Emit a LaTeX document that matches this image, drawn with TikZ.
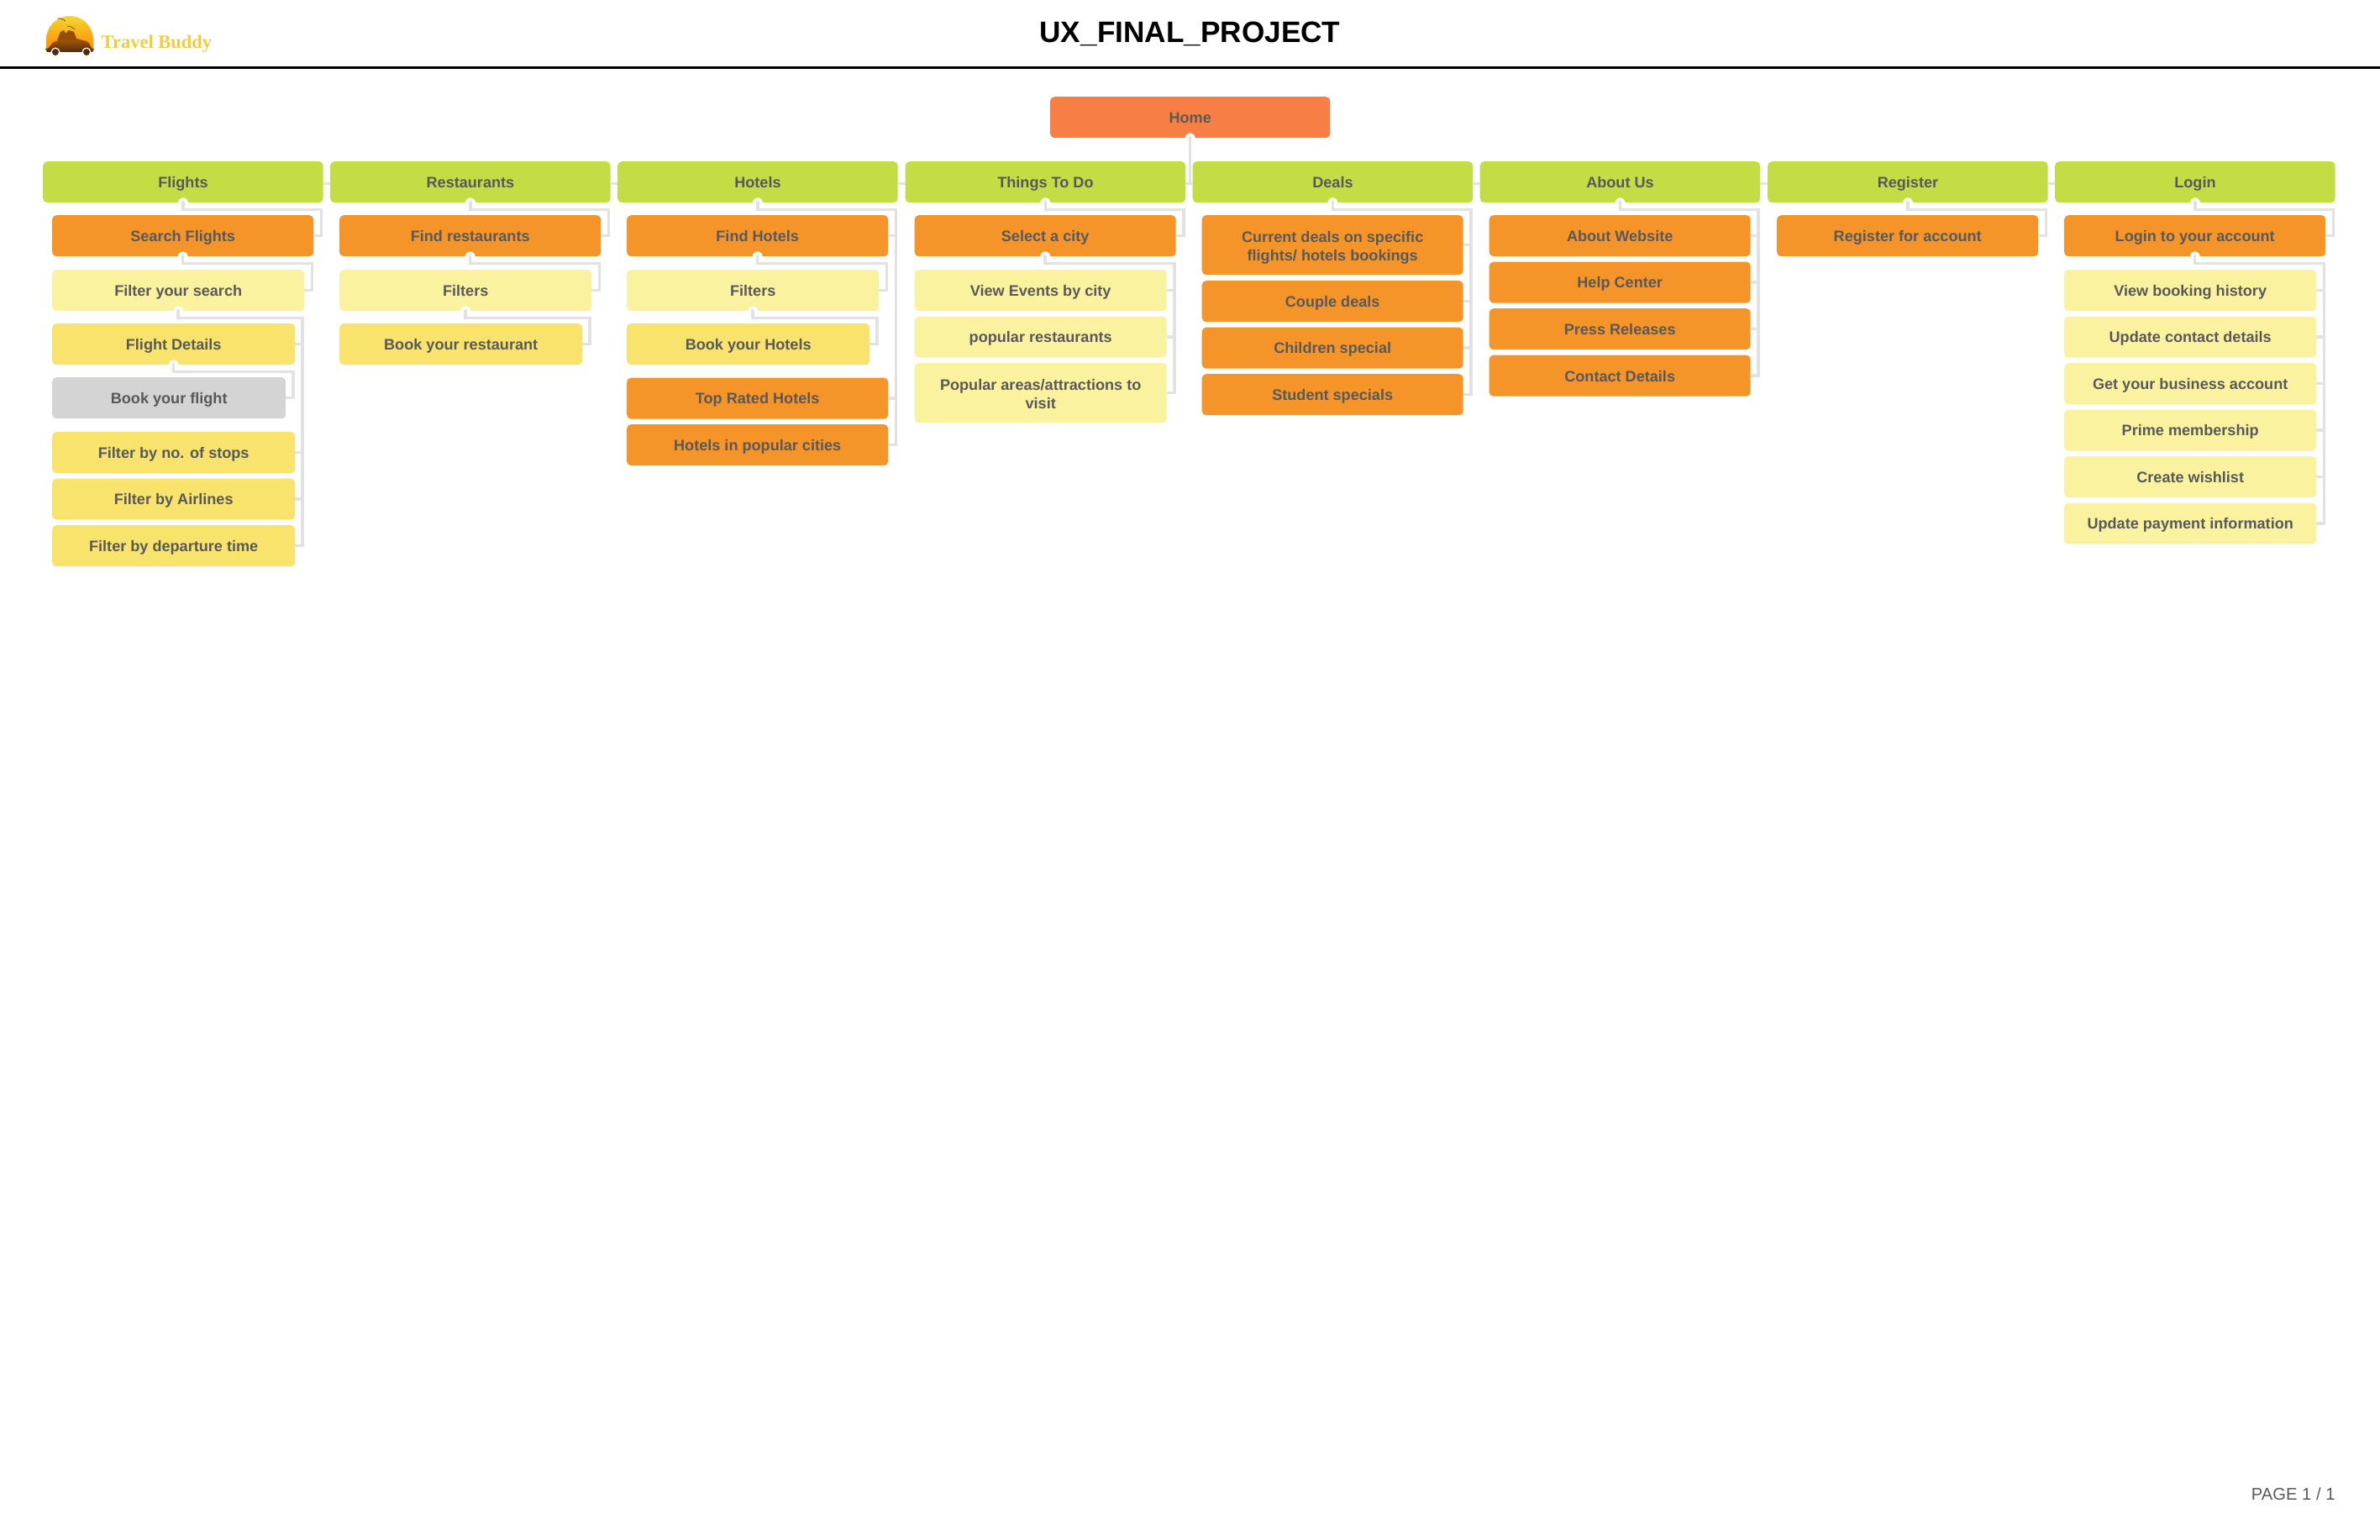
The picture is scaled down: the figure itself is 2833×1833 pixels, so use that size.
\documentclass[tikz,border=0pt]{standalone}
\usepackage{fontspec}
\setmainfont{Liberation Sans}
\newfontfamily\logofont{Liberation Serif}
\definecolor{inkgrey}{HTML}{58595B}
\definecolor{linkgrey}{HTML}{E2E2E2}
\definecolor{homeorange}{HTML}{F77F44}
\definecolor{tiergreen}{HTML}{C4DD45}
\definecolor{tierorange}{HTML}{F59428}
\definecolor{tierpale}{HTML}{FAF29E}
\definecolor{tieryellow}{HTML}{F8E36C}
\definecolor{tiergrey}{HTML}{D4D4D4}
\definecolor{logogold}{HTML}{F2CC3B}
\definecolor{logobrown}{HTML}{4E2C0E}
\tikzset{
  sitebox/.style={anchor=north west,rounded corners=5pt,inner sep=0pt,minimum height=49pt,
    align=center,text=inkgrey,font=\fontsize{18.1pt}{22pt}\selectfont\bfseries,
    execute at begin node={\rule{0pt}{17pt}},execute at end node={\rule[-3pt]{0pt}{3pt}}},
  twoline/.style={minimum height=71pt},
  homebox/.style={sitebox,fill=homeorange,minimum width=333pt},
  greenbox/.style={sitebox,fill=tiergreen,minimum width=333.5pt},
  orangebox/.style={sitebox,fill=tierorange},
  palebox/.style={sitebox,fill=tierpale},
  yellowbox/.style={sitebox,fill=tieryellow},
  greybox/.style={sitebox,fill=tiergrey},
  link/.style={draw=linkgrey,line width=3.5pt},
}
% first line of a two-line box sits a little lower
\newcommand\lowered{\rule{0pt}{19.5pt}}
% elbow from a parent to each of its children
\newcommand\elbow[3]{%
  \fill[white](#1.south) circle (6pt);
  \fill[linkgrey]([yshift=1pt]#1.south) circle (1.75pt);
  \foreach \kid in {#2}{\draw[link]([yshift=1pt]#1.south)--++(0,9)-|([xshift=#3]\kid.east)--(\kid.east);}
}
\begin{document}
\begin{tikzpicture}[x=1pt,y=-1pt]
\useasboundingbox(0,0)rectangle(2833,1833);
% header
\draw[line width=3pt](0,80.5)--(2833,80.5);
\node[font=\fontsize{35.2pt}{40pt}\selectfont\bfseries](title)at(1416.5,40){UX\_FINAL\_PROJECT};
\node[anchor=east,text=inkgrey,font=\fontsize{20.2pt}{24pt}\selectfont](pageno)at(2783,1778){PAGE 1 / 1};
% logo
\shade[top color=logogold!80!yellow,bottom color=orange!90!yellow](55,47) arc (180:360:28)--(111,58)--(55,58)--cycle;
\shade[top color=logobrown!45!orange,bottom color=logobrown](54,58) to [out=-15,in=190](66,49) to [out=10,in=180](84,45) to [out=0,in=170](103,49) to [out=-10,in=-150](112,58)--(110,62)--(56,62)--cycle;
\fill[logobrown!60!orange](68,48)--(72,38)--(76,36)--(78,40)--(82,36)--(88,38)--(92,48)--cycle;
\fill[white](66,62) circle (5.5);
\fill[white](103,62) circle (5.5);
\fill[logobrown](66,62) circle (4);
\fill[logobrown](103,62) circle (4);
\draw[logobrown!70!orange,line width=.8pt](68,22) to [bend left=20](78,25);
\draw[logobrown!70!orange,line width=.8pt](80,31) to [bend left=20](89,35);
\node[anchor=base west,inner sep=0pt,text=logogold,font=\logofont\fontsize{22.5pt}{26pt}\selectfont\bfseries](brand)at(120.5,57.5){Travel Buddy};
% home and first level
\node[homebox](home)at(1250,115){Home};
\node[greenbox](flights)at(51,192){Flights};
\node[greenbox](restaurants)at(393,192){Restaurants};
\node[greenbox](hotels)at(735,192){Hotels};
\node[greenbox](things)at(1077.5,192){Things To Do};
\node[greenbox](deals)at(1419.5,192){Deals};
\node[greenbox](about)at(1761.5,192){About Us};
\node[greenbox](register)at(2104,192){Register};
\node[greenbox](login)at(2446,192){Login};
% flights
\node[orangebox,minimum width=311pt](searchflights)at(62,256){Search Flights};
\node[palebox,minimum width=300pt](filtersearch)at(62,321){Filter your search};
\node[yellowbox,minimum width=289pt](flightdetails)at(62,385){Flight Details};
\node[greybox,minimum width=278pt](bookflight)at(62,449){Book your flight};
\node[yellowbox,minimum width=289pt](stops)at(62,514){Filter by no. of stops};
\node[yellowbox,minimum width=289pt](airlines)at(62,569.5){Filter by Airlines};
\node[yellowbox,minimum width=289pt](departure)at(62,625){Filter by departure time};
% restaurants
\node[orangebox,minimum width=311pt](findrest)at(404,256){Find restaurants};
\node[palebox,minimum width=300pt](restfilters)at(404,321){Filters};
\node[yellowbox,minimum width=289pt](bookrest)at(404,385){Book your restaurant};
% hotels
\node[orangebox,minimum width=311pt](findhotels)at(746,256){Find Hotels};
\node[palebox,minimum width=300pt](hotelfilters)at(746,321){Filters};
\node[yellowbox,minimum width=289pt](bookhotels)at(746,385){Book your Hotels};
\node[orangebox,minimum width=311pt](toprated)at(746,449.5){Top Rated Hotels};
\node[orangebox,minimum width=311pt](popcities)at(746,505){Hotels in popular cities};
% things to do
\node[orangebox,minimum width=311pt](selectcity)at(1088.5,256){Select a city};
\node[palebox,minimum width=300pt](events)at(1088.5,321){View Events by city};
\node[palebox,minimum width=300pt](poprest)at(1088.5,376.5){popular restaurants};
\node[palebox,twoline,minimum width=300pt](areas)at(1088.5,432){\lowered Popular areas/attractions to\\visit};
% deals
\node[orangebox,twoline,minimum width=311pt](current)at(1430.5,256){\lowered Current deals on specific\\flights/ hotels bookings};
\node[orangebox,minimum width=311pt](couple)at(1430.5,334){Couple deals};
\node[orangebox,minimum width=311pt](children)at(1430.5,389.5){Children special};
\node[orangebox,minimum width=311pt](student)at(1430.5,445){Student specials};
% about us
\node[orangebox,minimum width=311pt](website)at(1772.5,256){About Website};
\node[orangebox,minimum width=311pt](help)at(1772.5,311.5){Help Center};
\node[orangebox,minimum width=311pt](press)at(1772.5,367){Press Releases};
\node[orangebox,minimum width=311pt](contact)at(1772.5,422.5){Contact Details};
% register
\node[orangebox,minimum width=311pt](regaccount)at(2115,256){Register for account};
% login
\node[orangebox,minimum width=311pt](logaccount)at(2457,256){Login to your account};
\node[palebox,minimum width=300pt](history)at(2457,321){View booking history};
\node[palebox,minimum width=300pt](update)at(2457,376.5){Update contact details};
\node[palebox,minimum width=300pt](business)at(2457,432){Get your business account};
\node[palebox,minimum width=300pt](prime)at(2457,487.5){Prime membership};
\node[palebox,minimum width=300pt](wishlist)at(2457,543){Create wishlist};
\node[palebox,minimum width=300pt](payment)at(2457,598.5){Update payment information};
% connectors
\fill[white](home.south) circle (6pt);
\fill[linkgrey]([yshift=1pt]home.south) circle (1.75pt);
\draw[link]([yshift=1pt]home.south)--([yshift=-2pt]things.east-|home.south);
\foreach \a/\b in {flights/restaurants,restaurants/hotels,hotels/things,things/deals,deals/about,about/register,register/login}{\draw[link]([yshift=-2pt]\a.east)--([yshift=-2pt]\b.west);}
\elbow{flights}{searchflights}{9pt}
\elbow{searchflights}{filtersearch}{9pt}
\elbow{filtersearch}{flightdetails,stops,airlines,departure}{8.5pt}
\elbow{flightdetails}{bookflight}{8.5pt}
\elbow{restaurants}{findrest}{9pt}
\elbow{findrest}{restfilters}{9pt}
\elbow{restfilters}{bookrest}{8.5pt}
\elbow{hotels}{findhotels,toprated,popcities}{9pt}
\elbow{findhotels}{hotelfilters}{9pt}
\elbow{hotelfilters}{bookhotels}{8.5pt}
\elbow{things}{selectcity}{9pt}
\elbow{selectcity}{events,poprest,areas}{9pt}
\elbow{deals}{current,couple,children,student}{9pt}
\elbow{about}{website,help,press,contact}{9pt}
\elbow{register}{regaccount}{9pt}
\elbow{login}{logaccount}{9pt}
\elbow{logaccount}{history,update,business,prime,wishlist,payment}{9pt}
\end{tikzpicture}
\end{document}
